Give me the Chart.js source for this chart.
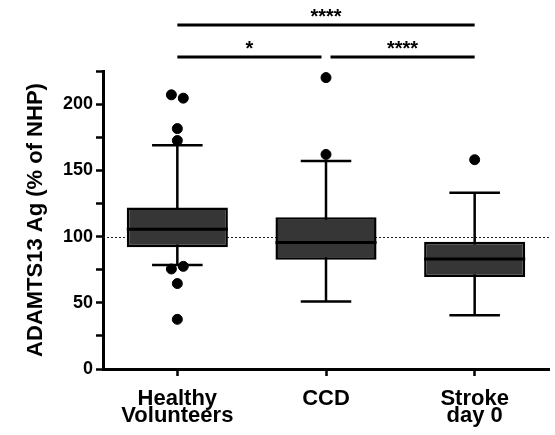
<!DOCTYPE html>
<html>
<head>
<meta charset="utf-8">
<script src="https://cdn.jsdelivr.net/npm/chart.js@4.4.1/dist/chart.umd.min.js"></script>
<style>
  html, body { margin: 0; padding: 0; background: #fff; }
  canvas { display: block; }
</style>
</head>
<body>
<canvas id="chart" width="555" height="435"></canvas>
<script>
// Groups on the x axis (multi-line labels)
const groups = [['Healthy', 'Volunteers'], ['CCD'], ['Stroke', 'day 0']];

// Box-and-whisker summary per group (ADAMTS13 Ag, % of NHP)
const q1 = [92, 82.5, 69.5];
const median = [105.5, 95.5, 83];
const q3 = [122, 114.5, 96];
const whiskerLow = [78.5, 51, 40.5];
const whiskerHigh = [169, 157, 133];

// Individual points outside the whiskers, per group
const outliers = [
  [207, 204.5, 181.5, 172.5, 75.5, 77.5, 64.5, 37.5],
  [220, 162],
  [158]
];

// Labelled y ticks (minor ticks every 25) and the dotted reference level
const yLabelTicks = [0, 50, 100, 150, 200];
const yMax = 225;
const referenceLevel = 100;

// Pairwise significance brackets
const comparisonFrom = [0, 0, 1];
const comparisonTo = [2, 1, 2];
const comparisonStars = ['****', '*', '****'];
const comparisonRow = [0, 1, 1];

const FONT = "'Liberation Sans', Arial, sans-serif";

// Spread out points that sit almost on top of each other
function jitteredPoints() {
  const pts = [];
  outliers.forEach((vals, g) => {
    let i = 0;
    while (i < vals.length) {
      if (i + 1 < vals.length && Math.abs(vals[i] - vals[i + 1]) < 4) {
        pts.push({ x: g - 0.04, y: vals[i] });
        pts.push({ x: g + 0.04, y: vals[i + 1] });
        i += 2;
      } else {
        pts.push({ x: g, y: vals[i] });
        i += 1;
      }
    }
  });
  return pts;
}

const boxPlotPlugin = {
  id: 'boxPlotParts',
  beforeDatasetsDraw(chart) {
    const { ctx, chartArea, scales } = chart;
    const x = scales.x, y = scales.y;
    ctx.save();
    // dotted reference line
    ctx.strokeStyle = '#222';
    ctx.lineWidth = 1;
    ctx.setLineDash([2, 2]);
    const ry = Math.round(y.getPixelForValue(referenceLevel)) + 0.5;
    ctx.beginPath();
    ctx.moveTo(chartArea.left, ry);
    ctx.lineTo(chartArea.right, ry);
    ctx.stroke();
    ctx.setLineDash([]);
    // whiskers with caps
    const meta = chart.getDatasetMeta(0);
    ctx.strokeStyle = '#000';
    ctx.lineWidth = 2.5;
    groups.forEach((g, i) => {
      const cx = x.getPixelForValue(i);
      const capHalf = meta.data[i].width / 4;
      const yLo = y.getPixelForValue(whiskerLow[i]);
      const yHi = y.getPixelForValue(whiskerHigh[i]);
      ctx.beginPath();
      ctx.moveTo(cx, yLo); ctx.lineTo(cx, yHi);
      ctx.moveTo(cx - capHalf, yLo); ctx.lineTo(cx + capHalf, yLo);
      ctx.moveTo(cx - capHalf, yHi); ctx.lineTo(cx + capHalf, yHi);
      ctx.stroke();
    });
    ctx.restore();
  },
  afterDatasetDraw(chart, args) {
    if (args.index !== 0) return;
    const { ctx, scales } = chart;
    const meta = chart.getDatasetMeta(0);
    ctx.save();
    ctx.strokeStyle = '#000';
    ctx.lineWidth = 3;
    groups.forEach((g, i) => {
      const bar = meta.data[i];
      const my = scales.y.getPixelForValue(median[i]);
      ctx.beginPath();
      ctx.moveTo(bar.x - bar.width / 2, my);
      ctx.lineTo(bar.x + bar.width / 2, my);
      ctx.stroke();
    });
    ctx.restore();
  },
  afterDraw(chart) {
    const { ctx, chartArea, scales } = chart;
    const x = scales.x;
    const rowY = [chartArea.top - 46, chartArea.top - 14];
    ctx.save();
    ctx.strokeStyle = '#000';
    ctx.fillStyle = '#000';
    ctx.lineWidth = 3;
    ctx.font = 'bold 20px ' + FONT;
    ctx.textAlign = 'center';
    ctx.textBaseline = 'alphabetic';
    const gap = 4.5;
    comparisonFrom.forEach((from, k) => {
      const to = comparisonTo[k];
      const yy = rowY[comparisonRow[k]];
      let x0 = x.getPixelForValue(from);
      let x1 = x.getPixelForValue(to);
      if (comparisonRow[k] === 1) {
        if (from === 1) x0 += gap;
        if (to === 1) x1 -= gap;
      }
      ctx.beginPath();
      ctx.moveTo(x0, yy);
      ctx.lineTo(x1, yy);
      ctx.stroke();
      ctx.fillText(comparisonStars[k], (x0 + x1) / 2, yy - 2);
    });
    ctx.restore();
  }
};

new Chart(document.getElementById('chart'), {
  type: 'bar',
  data: {
    labels: groups,
    datasets: [
      {
        type: 'bar',
        data: q1.map((v, i) => [v, q3[i]]),
        backgroundColor: '#363636',
        borderColor: '#000',
        borderWidth: 2.5,
        borderSkipped: false,
        grouped: false,
        barPercentage: 0.68,
        categoryPercentage: 1,
        order: 1
      },
      {
        type: 'scatter',
        data: jitteredPoints(),
        xAxisID: 'xPoints',
        backgroundColor: '#000',
        borderColor: '#000',
        pointRadius: 5,
        pointHoverRadius: 5,
        order: 0
      }
    ]
  },
  options: {
    responsive: false,
    animation: false,
    events: [],
    layout: { padding: { top: 71, right: 5, left: 0, bottom: 0 } },
    plugins: { legend: { display: false }, tooltip: { enabled: false } },
    scales: {
      x: {
        type: 'category',
        offset: true,
        border: { display: true, color: '#000', width: 3 },
        grid: { display: true, drawOnChartArea: false, drawTicks: true, tickLength: 7, tickWidth: 2.5, tickColor: '#000', offset: false },
        ticks: { color: '#000', font: { family: FONT, size: 22, weight: 'bold', lineHeight: 0.76 }, padding: 15, maxRotation: 0, autoSkip: false },
        afterFit(scale) { scale.height = 66; }
      },
      xPoints: {
        type: 'linear',
        display: false,
        offset: false,
        grid: { offset: false },
        min: -0.5,
        max: 2.5
      },
      y: {
        type: 'linear',
        min: 0,
        max: yMax,
        border: { display: true, color: '#000', width: 3 },
        grid: { display: true, drawOnChartArea: false, drawTicks: true, tickLength: 7, tickWidth: 2.5, tickColor: '#000' },
        ticks: {
          stepSize: 25,
          autoSkip: false,
          color: '#000',
          padding: 3,
          font: { family: FONT, size: 18, weight: 'bold' },
          callback: (v) => (yLabelTicks.includes(v) ? String(v) : '')
        },
        title: {
          display: true,
          text: 'ADAMTS13 Ag (% of NHP)',
          color: '#000',
          font: { family: FONT, size: 22, weight: 'bold' },
          padding: { top: 23, bottom: 0 }
        },
        afterFit(scale) { scale.width = 103; }
      }
    }
  },
  plugins: [boxPlotPlugin]
});
</script>
</body>
</html>
